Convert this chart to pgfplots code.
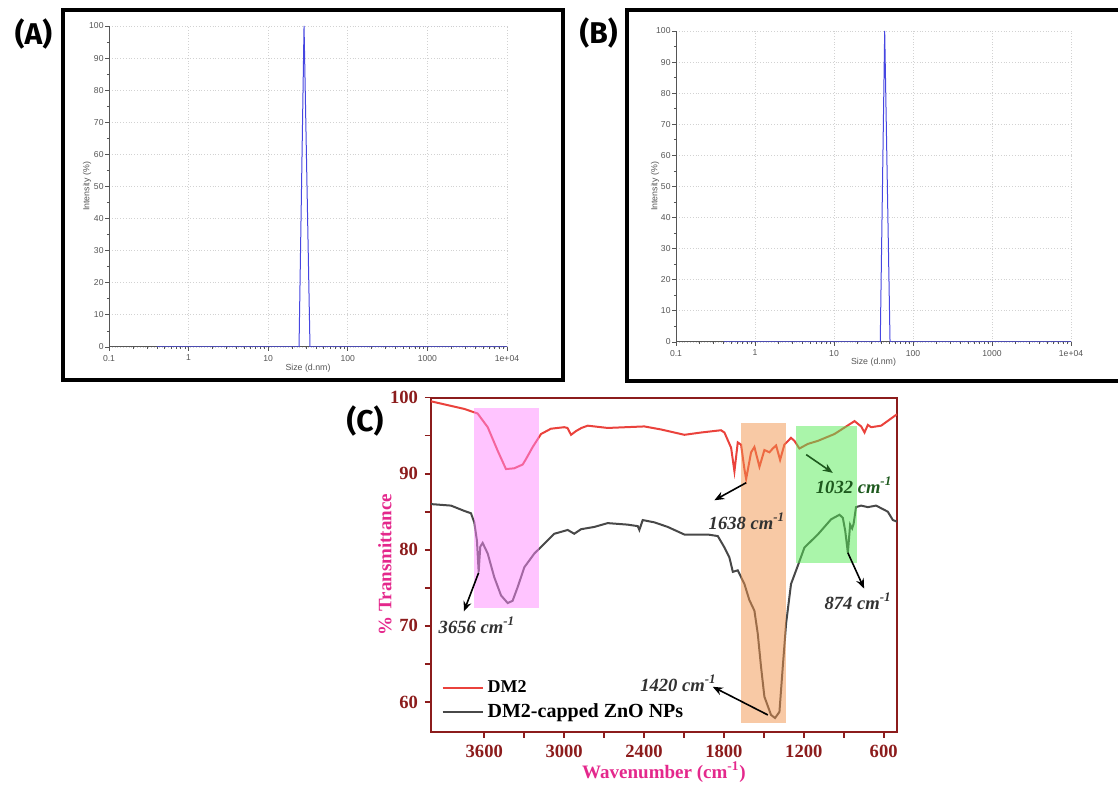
\documentclass[border=0pt]{standalone}
\usepackage{fontspec}
\setmainfont{Liberation Serif}
\newfontfamily\dlsfont{Liberation Sans}
\newfontfamily\panelfont{Fira Sans}
\usepackage{pgfplots}
\pgfplotsset{compat=1.18}
\usetikzlibrary{arrows.meta}

\definecolor{maroonC}{RGB}{140,28,28}
\definecolor{magC}{RGB}{228,40,140}
\definecolor{redC}{RGB}{234,66,60}
\definecolor{grayC}{RGB}{72,72,72}
\definecolor{greenT}{RGB}{30,90,30}
\definecolor{pinkF}{RGB}{255,137,255}
\definecolor{orangeF}{RGB}{241,147,75}
\definecolor{greenF}{RGB}{85,235,85}
\definecolor{dlsblue}{RGB}{70,70,225}
\definecolor{dlsgray}{RGB}{85,85,85}

\pgfplotsset{
  dls/.style={
    anchor=south west, scale only axis,
    xmin=0.1, xmax=10000, ymin=0, ymax=100,
    axis x line*=bottom, axis y line*=left,
    axis line style={dlsgray, line width=0.5pt},
    xtick={0.1,1,10,100,1000,10000},
    xticklabels={0.1,1,10,100,1000,1e+04},
    ytick={0,10,...,100}, minor y tick num=1,
    tick align=outside, major tick length=1.8pt, minor tick length=1.1pt,
    tick style={dlsgray, line width=0.4pt},
    grid=major, grid style={densely dotted, gray!35, line width=0.4pt},
    /pgf/number format/assume math mode=true,
    tick label style={font=\dlsfont\fontsize{4.3}{5}\selectfont, text=dlsgray},
    label style={font=\dlsfont\fontsize{4.4}{5}\selectfont, text=dlsgray},
    xticklabel style={yshift=1.3pt}, yticklabel style={xshift=2.6pt},
    xlabel={Size (d.nm)}, ylabel={Intensity (\%)},
  }
}

\begin{document}
\begin{tikzpicture}
\useasboundingbox (0,0) rectangle (559pt,-392.5pt);

% panel frames
\draw[line width=1.75pt] (31.5pt,-5pt) rectangle (281.5pt,-190pt);
\draw[line width=1.75pt] (565pt,-5pt) -- (313.5pt,-5pt) -- (313.5pt,-190.5pt) -- (565pt,-190.5pt);

\node[font=\panelfont\bfseries\fontsize{15}{15}\selectfont] at (16.75pt,-17pt) {(A)};
\node[font=\panelfont\bfseries\fontsize{15}{15}\selectfont] at (299.25pt,-16.5pt) {(B)};
\node[font=\panelfont\bfseries\fontsize{15}{15}\selectfont] at (182.5pt,-210.5pt) {(C)};

% (A) DLS
\begin{semilogxaxis}[dls, at={(54.5pt,-173.5pt)}, width=199pt, height=160.5pt,
  xlabel style={at={(axis description cs:0.5,-0.066)}, anchor=center},
  ylabel style={at={(axis description cs:-0.055,0.5)}, anchor=center}]
\addplot[dlsblue, line width=0.5pt] coordinates {(0.4,0) (24.4,0) (28.2,100) (33.5,0) (10000,0)};
\end{semilogxaxis}

% (B) DLS
\begin{semilogxaxis}[dls, at={(338pt,-171pt)}, width=197.5pt, height=155.5pt,
  xlabel style={at={(axis description cs:0.5,-0.064)}, anchor=center},
  ylabel style={at={(axis description cs:-0.053,0.5)}, anchor=center}]
\addplot[dlsblue, line width=0.5pt] coordinates {(0.4,0) (38.5,0) (43.8,100) (51.2,0) (10000,0)};
\end{semilogxaxis}

% (C) FTIR
\begin{axis}[
  at={(215.5pt,-365.85pt)}, anchor=south west, scale only axis,
  width=233pt, height=167.1pt,
  x dir=reverse, xmin=500, xmax=4000, ymin=56.1, ymax=100,
  xtick={600,1200,...,3600}, minor x tick num=1,
  ytick={60,70,80,90,100}, minor y tick num=1,
  xtick pos=left, ytick pos=left,
  tick align=outside, major tick length=3pt, minor tick length=3pt,
  axis line style={maroonC, line width=1pt},
  tick style={maroonC, line width=0.9pt},
  /pgf/number format/assume math mode=true,
  /pgf/number format/1000 sep={},
  tick label style={font=\fontsize{9.3}{10}\selectfont\bfseries, text=maroonC},
  label style={font=\fontsize{9.5}{10}\selectfont\bfseries, text=magC},
  xlabel={Wavenumber (cm\textsuperscript{-1})},
  ylabel={\% Transmittance},
  xlabel style={at={(axis description cs:0.5,-0.121)}, anchor=center},
  ylabel style={at={(axis description cs:-0.099,0.5)}, anchor=center},
  legend style={draw=none, fill=none, at={(0.022,0.167)}, anchor=north west,
    row sep=0pt, inner sep=0pt},
  legend cell align=left,
  legend image code/.code={\draw[#1] (0pt,0pt) -- (20pt,0pt);},
]
\addplot[redC, line width=1pt] coordinates {
(4000,99.5) (3750,98.5) (3650,97.9) (3574,96.1) (3499,93.0) (3437,90.6)
(3375,90.7) (3311,91.2) (3287,91.9) (3236,93.5) (3174,95.2) (3099,95.9)
(2999,96.1) (2975,96.0) (2948,95.1) (2910,95.6) (2870,96.0) (2823,96.3)
(2673,96.0) (2398,96.2) (2272,95.8) (2097,95.1) (1972,95.4) (1822,95.7)
(1796,95.4) (1746,93.4) (1721,90.3) (1696,94.1) (1671,93.8) (1646,90.6)
(1633,89.3) (1596,92.8) (1571,93.5) (1533,90.9) (1496,93.1) (1458,92.8)
(1433,93.3) (1408,93.7) (1378,91.8) (1346,93.8) (1296,94.7) (1270,94.3)
(1233,93.3) (1170,93.9) (1095,94.3) (970,95.2) (819,96.9) (769,96.2)
(744,95.4) (719,96.4) (694,96.1) (619,96.3) (500,97.8)};
\addlegendentry{\fontsize{9}{10}\selectfont\bfseries DM2}
\addplot[grayC, line width=1pt] coordinates {
(4000,86.0) (3850,85.8) (3750,85.1) (3700,84.8) (3675,83.6) (3655,81.2)
(3642,77.1) (3630,80.4) (3612,80.9) (3574,79.5) (3525,76.4) (3474,74.0)
(3424,73.0) (3387,73.3) (3349,75.1) (3299,77.7) (3224,79.5) (3149,80.8)
(3074,82.1) (2973,82.6) (2924,82.1) (2873,82.7) (2773,83.0) (2673,83.5)
(2522,83.3) (2447,83.1) (2435,82.6) (2410,83.9) (2322,83.6) (2222,83.0)
(2097,82.0) (1921,82.0) (1846,81.8) (1796,80.3) (1759,79.0) (1733,77.1)
(1696,77.3) (1646,75.5) (1609,73.4) (1571,72.0) (1546,69.0) (1521,64.6)
(1496,60.7) (1446,58.3) (1416,57.9) (1383,58.7) (1358,64.6) (1333,70.3)
(1296,75.5) (1245,77.9) (1195,80.3) (1095,82.0) (995,84.0) (932,84.6)
(907,84.2) (889,82.5) (869,79.6) (852,83.3) (837,82.8) (826,83.4)
(808,85.6) (770,85.8) (719,85.6) (657,85.8) (569,85.0) (531,83.9) (500,83.7)};
\addlegendentry{\fontsize{10}{11}\selectfont\bfseries DM2-capped ZnO NPs}

% highlighted bands
\addplot[draw=none, fill=pinkF, fill opacity=0.5, forget plot] coordinates {(3678,72.4) (3189,72.4) (3189,98.6) (3678,98.6)} -- cycle;
\addplot[draw=none, fill=orangeF, fill opacity=0.5, forget plot] coordinates {(1671,57.2) (1333,57.2) (1333,96.7) (1671,96.7)} -- cycle;
\addplot[draw=none, fill=greenF, fill opacity=0.5, forget plot] coordinates {(1259,78.3) (801,78.3) (801,96.3) (1259,96.3)} -- cycle;

% annotations
\draw[-{Stealth[length=5pt,width=4pt]}, line width=0.8pt] (axis cs:3642,77.0) -- (axis cs:3753,71.9);
\draw[-{Stealth[length=5pt,width=4pt]}, line width=0.8pt] (axis cs:1633,88.8) -- (axis cs:1872,86.5);
\draw[-{Stealth[length=5pt,width=4pt]}, line width=0.8pt] (axis cs:1470,58.3) -- (axis cs:1884,62.0);
\draw[-{Stealth[length=5pt,width=4pt]}, line width=0.8pt, greenT] (axis cs:1182,92.5) -- (axis cs:982,90.1);
\draw[-{Stealth[length=5pt,width=4pt]}, line width=0.8pt] (axis cs:869,79.6) -- (axis cs:747,74.9);
\node[font=\fontsize{9.3}{10}\selectfont\bfseries\itshape, text=grayC!70!black] at (axis cs:3655,70.1) {3656 cm\textsuperscript{-1}};
\node[font=\fontsize{9.3}{10}\selectfont\bfseries\itshape, text=grayC!70!black] at (axis cs:1627,83.7) {1638 cm\textsuperscript{-1}};
\node[font=\fontsize{9.3}{10}\selectfont\bfseries\itshape, text=grayC!70!black] at (axis cs:2141,62.5) {1420 cm\textsuperscript{-1}};
\node[font=\fontsize{9.3}{10}\selectfont\bfseries\itshape, text=greenT] at (axis cs:822,88.5) {1032 cm\textsuperscript{-1}};
\node[font=\fontsize{9.3}{10}\selectfont\bfseries\itshape, text=grayC!70!black] at (axis cs:792,73.2) {874 cm\textsuperscript{-1}};
\end{axis}
\end{tikzpicture}
\end{document}
